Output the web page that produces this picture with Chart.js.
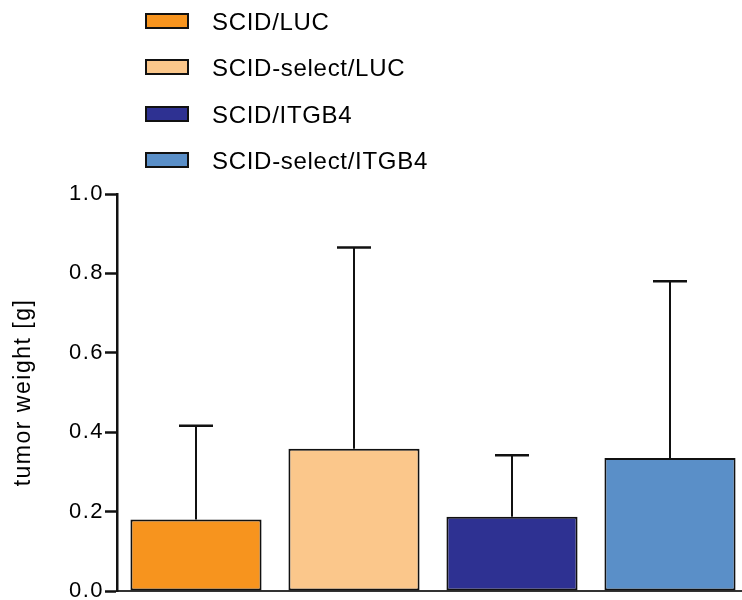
<!DOCTYPE html>
<html>
<head>
<meta charset="utf-8">
<title>tumor weight</title>
<script src="https://cdn.jsdelivr.net/npm/chart.js@4.4.1/dist/chart.umd.min.js"></script>
<style>
  html, body { margin: 0; padding: 0; background: #fff; overflow: hidden; }
  #wrap { position: relative; width: 742px; height: 600px; overflow: hidden; }
  #chart { position: absolute; left: 0; top: 0; }
  #legend {
    position: absolute; left: 145px; top: 0;
    font-family: "Liberation Sans", Arial, sans-serif;
    font-size: 24px; letter-spacing: 0.7px; color: #000;
  }
  .row {
    position: absolute; left: 0; height: 16px; line-height: 16px;
    display: flex; align-items: center; white-space: nowrap;
  }
  .swatch { box-sizing: border-box; width: 44px; height: 16px; border: 2px solid #111; }
  .row span { position: relative; top: 1px; margin-left: 23px; }
</style>
</head>
<body>
<div id="wrap">
  <canvas id="chart" width="750" height="610"></canvas>
  <div id="legend"></div>
</div>
<script>
// groups, mean weight and SD (g)
const groups = ['SCID/LUC', 'SCID-select/LUC', 'SCID/ITGB4', 'SCID-select/ITGB4'];
const meanWeight = [0.180, 0.358, 0.187, 0.335];
const sdWeight = [0.236, 0.507, 0.155, 0.445];
const colors = ['#F7941E', '#FBC78B', '#2E3192', '#5A8FC8'];
const yTicks = [0.0, 0.2, 0.4, 0.6, 0.8, 1.0];

const FONT = '"Liberation Sans", Arial, sans-serif';

// upper SD whiskers, drawn from the bar top
const errorBars = {
  id: 'errorBars',
  afterDatasetsDraw(chart) {
    const { ctx, scales: { y } } = chart;
    const meta = chart.getDatasetMeta(0);
    ctx.save();
    ctx.strokeStyle = '#111';
    meta.data.forEach((bar, i) => {
      const top = y.getPixelForValue(meanWeight[i] + sdWeight[i]);
      ctx.lineWidth = 2;
      ctx.beginPath();
      ctx.moveTo(bar.x, bar.y);
      ctx.lineTo(bar.x, top);
      ctx.stroke();
      ctx.lineWidth = 2.5;
      ctx.beginPath();
      ctx.moveTo(bar.x - 17, top);
      ctx.lineTo(bar.x + 17, top);
      ctx.stroke();
    });
    ctx.restore();
  }
};

// wider tracking for the axis text
const tracking = {
  id: 'tracking',
  beforeDraw(chart) { chart.ctx.letterSpacing = '1.5px'; },
  afterDraw(chart) { chart.ctx.letterSpacing = '0px'; }
};

const chart = new Chart(document.getElementById('chart'), {
  type: 'bar',
  data: {
    labels: groups,
    datasets: [{
      data: meanWeight,
      backgroundColor: colors,
      borderColor: '#111',
      borderWidth: 2,
      borderSkipped: false,
      categoryPercentage: 1.0,
      barPercentage: 0.83
    }]
  },
  options: {
    responsive: false,
    animation: false,
    layout: { padding: { top: 194, bottom: 19, left: 0, right: 1 } },
    plugins: {
      legend: { display: false },
      tooltip: { enabled: false }
    },
    scales: {
      x: {
        ticks: { display: false },
        grid: { display: false, drawTicks: false },
        border: { display: true, color: '#333', width: 2 }
      },
      y: {
        min: 0,
        max: 1.0,
        afterBuildTicks(scale) { scale.ticks = yTicks.map(v => ({ value: v })); },
        afterFit(scale) { scale.width = 117; },
        ticks: {
          color: '#000',
          padding: 1,
          font: { family: FONT, size: 22 },
          callback: v => v.toFixed(1)
        },
        grid: {
          drawOnChartArea: false,
          tickLength: 12,
          tickWidth: 2.5,
          tickColor: '#111'
        },
        border: { display: true, color: '#111', width: 2.5 },
        title: {
          display: true,
          text: 'tumor weight [g]',
          color: '#000',
          font: { family: FONT, size: 23 },
          padding: { top: 10, bottom: 0 }
        }
      }
    }
  },
  plugins: [errorBars, tracking]
});

// stacked legend above the plot
const legend = document.getElementById('legend');
groups.forEach((name, i) => {
  const row = document.createElement('div');
  row.className = 'row';
  row.style.top = (12.7 + i * 46.4) + 'px';
  const sw = document.createElement('div');
  sw.className = 'swatch';
  sw.style.background = colors[i];
  const label = document.createElement('span');
  label.textContent = name;
  row.appendChild(sw);
  row.appendChild(label);
  legend.appendChild(row);
});
</script>
</body>
</html>
